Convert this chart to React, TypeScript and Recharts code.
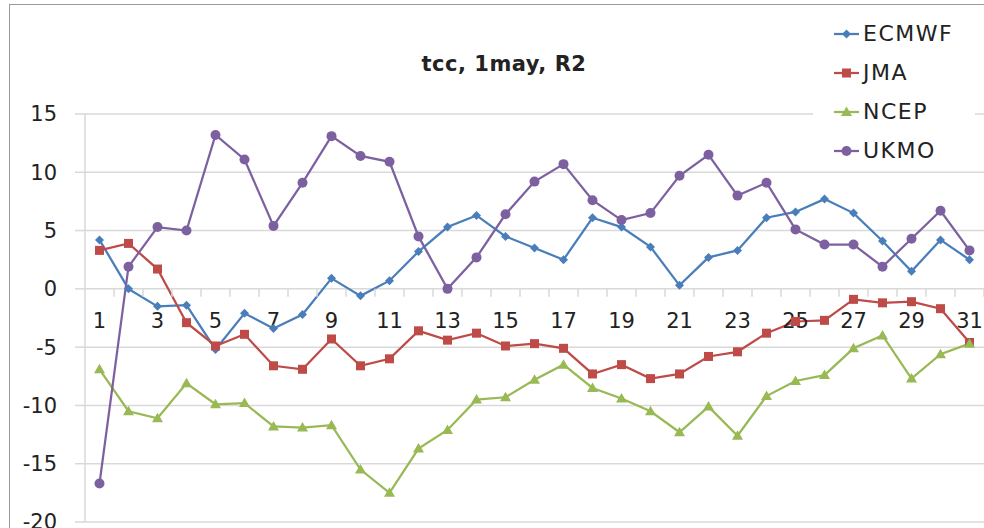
import { LineChart, Line, XAxis, YAxis, CartesianGrid, Legend, ReferenceDot } from "recharts";

const days = [1, 2, 3, 4, 5, 6, 7, 8, 9, 10, 11, 12, 13, 14, 15, 16, 17, 18, 19, 20, 21, 22, 23, 24, 25, 26, 27, 28, 29, 30, 31];
const ecmwf = [4.2, 0.0, -1.5, -1.4, -5.2, -2.1, -3.4, -2.2, 0.9, -0.6, 0.7, 3.2, 5.3, 6.3, 4.5, 3.5, 2.5, 6.1, 5.3, 3.6, 0.3, 2.7, 3.3, 6.1, 6.6, 7.7, 6.5, 4.1, 1.5, 4.2, 2.5];
const jma = [3.3, 3.9, 1.7, -2.9, -4.9, -3.9, -6.6, -6.9, -4.3, -6.6, -6.0, -3.6, -4.4, -3.8, -4.9, -4.7, -5.1, -7.3, -6.5, -7.7, -7.3, -5.8, -5.4, -3.8, -2.8, -2.7, -0.9, -1.2, -1.1, -1.7, -4.6];
const ncep = [-6.9, -10.5, -11.1, -8.1, -9.9, -9.8, -11.8, -11.9, -11.7, -15.5, -17.5, -13.7, -12.1, -9.5, -9.3, -7.8, -6.5, -8.5, -9.4, -10.5, -12.3, -10.1, -12.6, -9.2, -7.9, -7.4, -5.1, -4.0, -7.7, -5.6, -4.7];
const ukmo = [-16.7, 1.9, 5.3, 5.0, 13.2, 11.1, 5.4, 9.1, 13.1, 11.4, 10.9, 4.5, 0.0, 2.7, 6.4, 9.2, 10.7, 7.6, 5.9, 6.5, 9.7, 11.5, 8.0, 9.1, 5.1, 3.8, 3.8, 1.9, 4.3, 6.7, 3.3];
const yTicks = [-20, -15, -10, -5, 0, 5, 10, 15];

const rows = days.map((d, i) => ({ day: d, ECMWF: ecmwf[i], JMA: jma[i], NCEP: ncep[i], UKMO: ukmo[i] }));

const W = 984;
const H = 528;
const AXIS_W = 85;
const BAND = (W - AXIS_W) / days.length;
const FONT = "'DejaVu Sans', sans-serif";
const TEXT = "#222";
const GRID = "#d9d9d9";

const series = [
  { key: "ECMWF", color: "#4a7ebb", shape: "diamond" },
  { key: "JMA", color: "#be4b48", shape: "square" },
  { key: "NCEP", color: "#98b954", shape: "triangle" },
  { key: "UKMO", color: "#7d60a0", shape: "circle" },
];

function Marker({ shape, cx, cy, color }: { shape: string; cx: number; cy: number; color: string }) {
  if (shape === "diamond")
    return <polygon points={`${cx},${cy - 4.5} ${cx + 4.5},${cy} ${cx},${cy + 4.5} ${cx - 4.5},${cy}`} fill={color} />;
  if (shape === "square") return <rect x={cx - 4.5} y={cy - 4.5} width={9} height={9} fill={color} />;
  if (shape === "triangle")
    return <polygon points={`${cx},${cy - 5.5} ${cx + 5.5},${cy + 4} ${cx - 5.5},${cy + 4}`} fill={color} />;
  return <circle cx={cx} cy={cy} r={5} fill={color} />;
}

function LegendBox() {
  return (
    <div style={{ background: "#fff", paddingLeft: 20 }}>
      {series.map((s) => (
        <div key={s.key} style={{ height: 39, display: "flex", alignItems: "center" }}>
          <svg width={28} height={14}>
            <line x1={1} y1={7} x2={26} y2={7} stroke={s.color} strokeWidth={2.25} />
            <Marker shape={s.shape} cx={13.5} cy={7} color={s.color} />
          </svg>
          <span style={{ fontFamily: FONT, fontSize: 22, color: TEXT, marginLeft: 2, letterSpacing: 1.5 }}>{s.key}</span>
        </div>
      ))}
    </div>
  );
}

// x axis sits on the zero line, so draw its ticks and labels from reference dots
function DayTick(props: any) {
  const { cx, cy, day } = props;
  return (
    <g>
      <line x1={cx + BAND / 2} y1={cy} x2={cx + BAND / 2} y2={cy + 8} stroke={GRID} strokeWidth={1.5} />
      {day % 2 === 1 && (
        <text x={cx} y={cy + 32} dy="0.355em" textAnchor="middle" fontFamily={FONT} fontSize={21} fill={TEXT}>
          {day}
        </text>
      )}
    </g>
  );
}

export default function App() {
  return (
    <div style={{ position: "absolute", left: 0, top: 0, width: W, height: H, background: "#fff" }}>
      <div style={{ position: "absolute", left: 9, top: 4, right: 0, bottom: 0, borderLeft: "1.5px solid #999", borderTop: "1.5px solid #999" }} />
      <div
        style={{ position: "absolute", left: 0, width: 1008, top: 52, textAlign: "center", fontFamily: FONT, fontWeight: "bold", fontSize: 21, color: TEXT, letterSpacing: 0.5 }}
      >
        tcc, 1may, R2
      </div>
      <LineChart width={W} height={H} data={rows} margin={{ top: 114, right: 0, bottom: 6, left: 0 }}>
        <CartesianGrid vertical={false} stroke={GRID} strokeWidth={1.5} />
        <XAxis dataKey="day" hide padding={{ left: BAND / 2, right: BAND / 2 }} />
        <YAxis
          width={AXIS_W}
          domain={[-20, 15]}
          ticks={yTicks}
          interval={0}
          tickSize={10}
          tickMargin={18}
          axisLine={{ stroke: GRID, strokeWidth: 1.5 }}
          tickLine={{ stroke: GRID, strokeWidth: 1.5 }}
          tick={{ fontFamily: FONT, fontSize: 21, fill: TEXT }}
        />
        {days.map((d) => (
          <ReferenceDot key={d} x={d} y={0} shape={(p: any) => <DayTick {...p} day={d} />} />
        ))}
        {series.map((s) => (
          <Line
            key={s.key}
            dataKey={s.key}
            stroke={s.color}
            strokeWidth={2.25}
            isAnimationActive={false}
            dot={(p: any) => <Marker key={p.index} shape={s.shape} cx={p.cx} cy={p.cy} color={s.color} />}
            activeDot={false}
          />
        ))}
        <Legend
          layout="vertical"
          align="center"
          verticalAlign="middle"
          content={() => <LegendBox />}
          wrapperStyle={{ top: 14, left: 813, width: 162, bottom: "auto", right: "auto" }}
        />
      </LineChart>
    </div>
  );
}
